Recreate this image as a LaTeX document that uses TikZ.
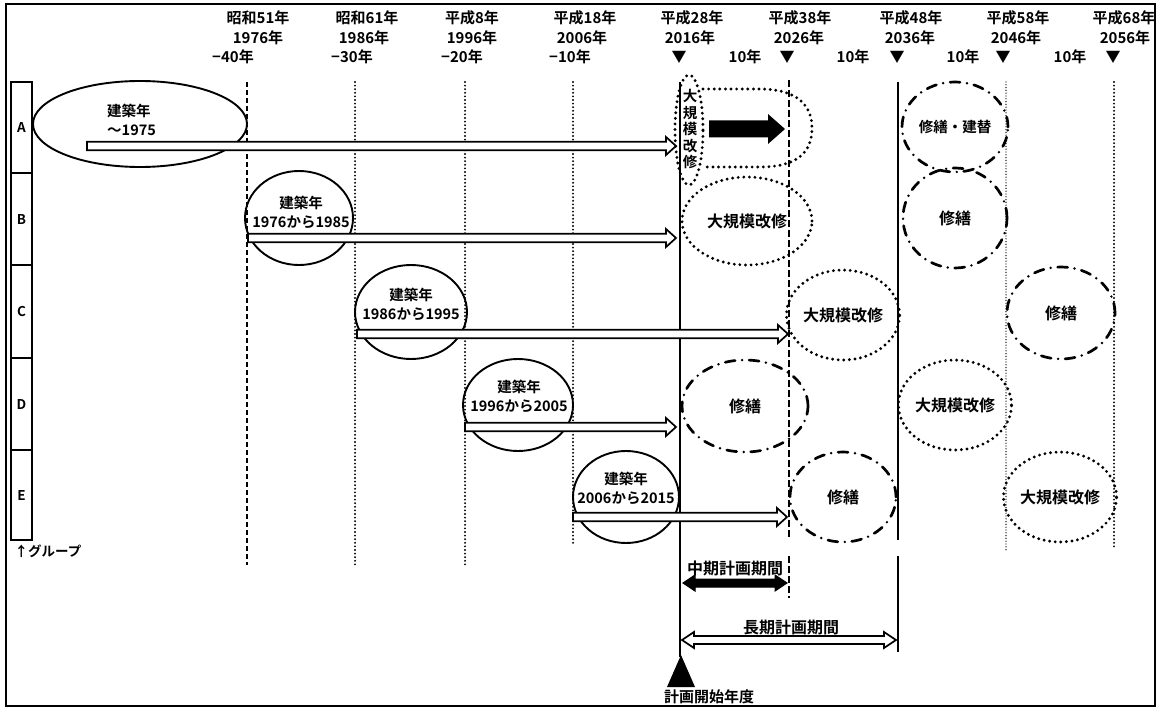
\documentclass[tikz,border=0pt]{standalone}
\usepackage{fontspec}
\setmainfont{Noto Sans CJK JP Bold}
\usetikzlibrary{shapes.geometric,calc}
% hollow single arrow between two named coordinates
\newcommand\hollowarr[3][harr]{%
  \path[#1] let \p1=(#2), \p2=(#3) in
    (\x1,\y1-4.2pt) -- (\x2-10pt,\y1-4.2pt) -- (\x2-10pt,\y1-9pt) -- (\x2,\y1)
    -- (\x2-10pt,\y1+9pt) -- (\x2-10pt,\y1+4.2pt) -- (\x1,\y1+4.2pt) -- cycle;}
% double headed arrow between two named coordinates
\newcommand\dblarr[3][harr]{%
  \path[#1] let \p1=(#2), \p2=(#3) in
    (\x1,\y1) -- (\x1+12pt,\y1+8pt) -- (\x1+12pt,\y1+4pt) -- (\x2-12pt,\y1+4pt)
    -- (\x2-12pt,\y1+8pt) -- (\x2,\y1) -- (\x2-12pt,\y1-8pt) -- (\x2-12pt,\y1-4pt)
    -- (\x1+12pt,\y1-4pt) -- (\x1+12pt,\y1-8pt) -- cycle;}
% fat black arrow
\newcommand\fatarr[3][fill=black]{%
  \path[#1] let \p1=(#2), \p2=(#3) in
    (\x1,\y1-8.5pt) -- (\x2-17pt,\y1-8.5pt) -- (\x2-17pt,\y1-15pt) -- (\x2,\y1)
    -- (\x2-17pt,\y1+15pt) -- (\x2-17pt,\y1+8.5pt) -- (\x1,\y1+8.5pt) -- cycle;}
\begin{document}
\begin{tikzpicture}[x=1pt,y=-1pt,
  hdr/.style={font=\fontsize{15}{17}\selectfont, inner sep=0pt},
  lbl/.style={font=\fontsize{14.5}{19}\selectfont, align=center, inner sep=0pt},
  work/.style={font=\fontsize{16}{18}\selectfont},
  grp/.style={draw, line width=1.2pt, minimum width=21pt, font=\fontsize{13.5}{15}\selectfont, inner sep=0pt},
  bldell/.style={draw, ellipse, line width=1.9pt, inner sep=0pt},
  dotell/.style={draw, ellipse, line width=3.2pt, dash pattern=on 0pt off 5.6pt, line cap=round, inner sep=0pt},
  dshdotell/.style={draw, ellipse, line width=2.7pt, dash pattern=on 10pt off 7pt on 0pt off 7pt, line cap=round, inner sep=0pt},
  vsolid/.style={line width=1.9pt},
  vdashA/.style={line width=1.3pt, dash pattern=on 5pt off 3pt},
  vdashB/.style={line width=2pt, dash pattern=on 7pt off 3pt},
  vdotA/.style={line width=2.1pt, dash pattern=on 0pt off 3.6pt, line cap=round},
  vdotB/.style={line width=1.4pt, dash pattern=on 0pt off 2.8pt, line cap=round},
  harr/.style={draw, fill=white, line width=1.7pt, line join=miter},
]
\useasboundingbox (0,0) rectangle (1161,711);
\fill[white] (0,0) rectangle (1161,711);
\draw[line width=2pt] (6,4) rectangle (1155,706);

% ---------- header ----------
\node[hdr] (e1) at (258,18) {昭和51年};
\node[hdr] (y1) at (258,38) {1976年};
\node[hdr] (r1) at (233,57) {−40年};
\node[hdr] (e2) at (367,18) {昭和61年};
\node[hdr] (y2) at (364,38) {1986年};
\node[hdr] (r2) at (352,57) {−30年};
\node[hdr] (e3) at (472,18) {平成8年};
\node[hdr] (y3) at (472,38) {1996年};
\node[hdr] (r3) at (462,57) {−20年};
\node[hdr] (e4) at (585,18) {平成18年};
\node[hdr] (y4) at (582,38) {2006年};
\node[hdr] (r4) at (570,57) {−10年};
\node[hdr] (e5) at (692,18) {平成28年};
\node[hdr] (y5) at (690,38) {2016年};
\node[hdr] (t5) at (679,57) {▼};
\node[hdr] (d5) at (745,57) {10年};
\node[hdr] (e6) at (800,18) {平成38年};
\node[hdr] (y6) at (799,38) {2026年};
\node[hdr] (t6) at (787,57) {▼};
\node[hdr] (d6) at (853,57) {10年};
\node[hdr] (e7) at (911,18) {平成48年};
\node[hdr] (y7) at (910,38) {2036年};
\node[hdr] (t7) at (897,57) {▼};
\node[hdr] (d7) at (963,57) {10年};
\node[hdr] (e8) at (1018,18) {平成58年};
\node[hdr] (y8) at (1016,38) {2046年};
\node[hdr] (t8) at (1003,57) {▼};
\node[hdr] (d8) at (1070,57) {10年};
\node[hdr] (e9) at (1124,18) {平成68年};
\node[hdr] (y9) at (1125,38) {2056年};
\node[hdr] (t9) at (1113,57) {▼};

% ---------- group column ----------
\node[grp, minimum height=91pt] (gA) at (21.5,127.5) {A};
\node[grp, minimum height=92pt] (gB) at (21.5,219) {B};
\node[grp, minimum height=93pt] (gC) at (21.5,311.5) {C};
\node[grp, minimum height=92pt] (gD) at (21.5,404) {D};
\node[grp, minimum height=90pt] (gE) at (21.5,495) {E};
\node[hdr, font=\fontsize{13.5}{15}\selectfont] (grplbl) at (48,551) {↑グループ};

% ---------- vertical lines ----------
\coordinate (v1t) at (247,82);  \coordinate (v1b) at (247,565);
\coordinate (v2t) at (355,82);  \coordinate (v2b) at (355,565);
\coordinate (v3t) at (465,82);  \coordinate (v3b) at (465,565);
\coordinate (v4t) at (573,82);  \coordinate (v4b) at (573,543);
\coordinate (v5t) at (680,82);  \coordinate (v5b) at (680,657);
\coordinate (v6t) at (789,80);  \coordinate (v6b) at (789,540);
\coordinate (v6u) at (789,556); \coordinate (v6v) at (789,598);
\coordinate (v7t) at (898,82);  \coordinate (v7b) at (898,540);
\coordinate (v7u) at (898,556); \coordinate (v7v) at (898,652);
\coordinate (v8t) at (1006,82); \coordinate (v8b) at (1006,550);
\coordinate (v9t) at (1114,82); \coordinate (v9b) at (1114,550);
\draw[vdashA] (v1t) -- (v1b);
\draw[vdotA] (v2t) -- (v2b);
\draw[vdotA] (v3t) -- (v3b);
\draw[vdotA] (v4t) -- (v4b);
\draw[vsolid] (v5t) -- (v5b);
\draw[vdashB] (v6t) -- (v6b);
\draw[vdashB] (v6u) -- (v6v);
\draw[vsolid] (v7t) -- (v7b);
\draw[vsolid] (v7u) -- (v7v);
\draw[vdotB] (v8t) -- (v8b);
\draw[vdotA] (v9t) -- (v9b);

% ---------- construction-year ellipses ----------
\node[bldell, minimum width=214pt, minimum height=86pt] (ellA) at (140,124) {};
\node[lbl, align=left, anchor=west] (txtA) at (107,120) {建築年\\〜1975};
\node[bldell, minimum width=108pt, minimum height=94pt] (ellB) at (299,218) {};
\node[lbl] (txtB) at (301,212.5) {建築年\\1976から1985};
\node[bldell, minimum width=112pt, minimum height=94pt] (ellC) at (411,312) {};
\node[lbl] (txtC) at (411,304) {建築年\\1986から1995};
\node[bldell, minimum width=110pt, minimum height=92pt] (ellD) at (518,405) {};
\node[lbl] (txtD) at (519,396.5) {建築年\\1996から2005};
\node[bldell, minimum width=106pt, minimum height=92pt] (ellE) at (626,497) {};
\node[lbl] (txtE) at (626,488.5) {建築年\\2006から2015};

% ---------- work ellipses ----------
% row A
\draw[line width=3.2pt, dash pattern=on 0pt off 5.6pt, line cap=round]
  (703,89) -- (760,89) .. controls (800,89) and (812,108) .. (812,128)
  .. controls (812,150) and (800,167) .. (760,167) -- (703,167);
\node[dotell, minimum width=28pt, minimum height=110pt] (vA) at (689,130) {};
\node[lbl, font=\fontsize{14.5}{16.5}\selectfont] (vtxt) at (690,129) {大\\規\\模\\改\\修};
\node[dshdotell, minimum width=106pt, minimum height=90pt, font=\fontsize{14.5}{16}\selectfont] (wA2) at (955,127) {修繕・建替};
% row B
\node[dotell, work, minimum width=130pt, minimum height=88pt] (wB1) at (747,221) {大規模改修};
\node[dshdotell, work, minimum width=104pt, minimum height=100pt] (wB2) at (955,218) {修繕};
% row C
\node[dotell, work, minimum width=110pt, minimum height=90pt] (wC1) at (843,315) {大規模改修};
\node[dshdotell, work, minimum width=108pt, minimum height=92pt] (wC2) at (1061,313) {修繕};
% row D
\node[dshdotell, work, minimum width=126pt, minimum height=92pt] (wD1) at (745,406) {修繕};
\node[dotell, work, minimum width=106pt, minimum height=90pt] (wD2) at (955,405) {大規模改修};
% row E
\node[dshdotell, work, minimum width=106pt, minimum height=90pt] (wE1) at (843,497) {修繕};
\node[dotell, work, minimum width=110pt, minimum height=90pt] (wE2) at (1060,497) {大規模改修};

% ---------- arrows ----------
\coordinate (aA0) at (87,146);   \coordinate (aA1) at (676,146);
\coordinate (aB0) at (248,238);  \coordinate (aB1) at (676,238);
\coordinate (aC0) at (357,334);  \coordinate (aC1) at (788,334);
\coordinate (aD0) at (465,427);  \coordinate (aD1) at (676,427);
\coordinate (aE0) at (573,517);  \coordinate (aE1) at (787,517);
\hollowarr{aA0}{aA1}
\hollowarr{aB0}{aB1}
\hollowarr{aC0}{aC1}
\hollowarr{aD0}{aD1}
\hollowarr{aE0}{aE1}
\coordinate (fat0) at (709,129); \coordinate (fat1) at (785,129);
\fatarr{fat0}{fat1}

% ---------- planning periods ----------
\node[work, inner sep=0pt] (midtxt) at (735,568) {中期計画期間};
\coordinate (m0) at (683,583); \coordinate (m1) at (787,583);
\dblarr[draw, fill=black, line width=1pt]{m0}{m1}
\node[work, inner sep=0pt] (longtxt) at (791,627) {長期計画期間};
\coordinate (l0) at (682,640); \coordinate (l1) at (896,640);
\dblarr{l0}{l1}
\fill (681,655) -- (695,687) -- (667,687) -- cycle;
\node[hdr, font=\fontsize{15}{16}\selectfont] (start) at (709,697) {計画開始年度};
\end{tikzpicture}
\end{document}
